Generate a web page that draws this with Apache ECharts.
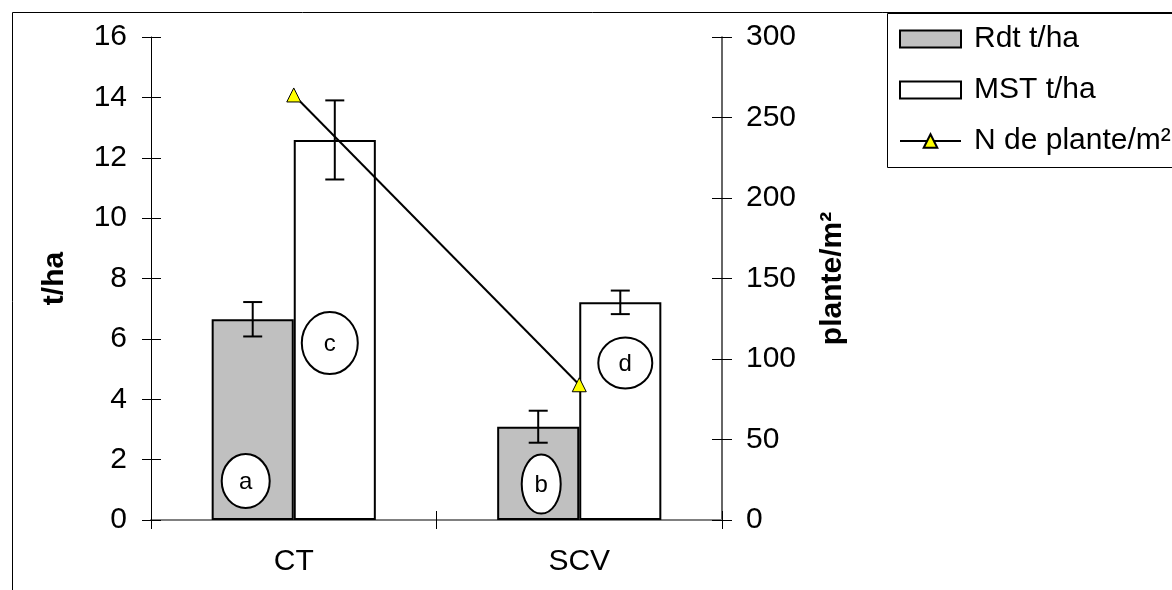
<!DOCTYPE html>
<html><head><meta charset="utf-8">
<script src="https://cdn.jsdelivr.net/npm/echarts@6/dist/echarts.min.js"></script>
<style>html,body{margin:0;padding:0;background:#fff}#c{width:1172px;height:590px}</style>
</head><body><div id="c"></div>
<script>
// ---- data ----
const categories = ['CT', 'SCV'];
const rdtValues = [6.65, 3.09];
const rdtErrors = [0.57, 0.53];
const mstValues = [12.59, 7.21];
const mstErrors = [1.31, 0.39];
const plantValues = [264, 84];
const rdtLetters = ['a', 'b'];
const rdtLetterLevels = [1.29, 1.19];
const mstLetters = ['c', 'd'];
const mstLetterLevels = [5.86, 5.20];
const leftAxisTicks = { min: 0, max: 16, interval: 2 };
const rightAxisTicks = { min: 0, max: 300, interval: 50 };
const seriesNames = ['Rdt t/ha', 'MST t/ha', 'N de plante/m²'];

// ---- styles ----
const FONT = 'Liberation Sans, Arial, sans-serif';
const GAP = 0.425;
const ellipseStyle = {
  a: { rx: 24, ry: 27, dx: -7 },
  b: { rx: 19.5, ry: 29.5, dx: 3 },
  c: { rx: 28, ry: 31, dx: -5 },
  d: { rx: 27, ry: 25.5, dx: 5 }
};

function barCenter(api, cat, idx) {
  const band = api.size([1, 0])[0];
  const bw = band * (1 - GAP) / 2;
  const c = api.coord([cat, 0])[0];
  return c + (idx === 0 ? -bw / 2 : bw / 2);
}

function errorSeries(values, errors, idx) {
  return {
    type: 'custom', name: 'err' + idx, z: 6, silent: true,
    data: values.map((v, i) => [i, v, errors[i]]),
    renderItem(params, api) {
      const cat = api.value(0), v = api.value(1), e = api.value(2);
      const x = barCenter(api, cat, idx);
      const yTop = api.coord([cat, v + e])[1];
      const yBot = api.coord([cat, v - e])[1];
      const s = { stroke: '#000', lineWidth: 2 };
      return { type: 'group', children: [
        { type: 'line', shape: { x1: x, y1: yTop, x2: x, y2: yBot }, style: s },
        { type: 'line', shape: { x1: x - 9.5, y1: yTop, x2: x + 9.5, y2: yTop }, style: s },
        { type: 'line', shape: { x1: x - 9.5, y1: yBot, x2: x + 9.5, y2: yBot }, style: s }
      ]};
    }
  };
}

function letterSeries(letters, levels, idx) {
  return {
    type: 'custom', name: 'letters' + idx, z: 5, silent: true,
    data: levels.map((v, i) => [i, v, letters[i]]),
    renderItem(params, api) {
      const cat = api.value(0), v = api.value(1);
      const letter = letters[params.dataIndex];
      const st = ellipseStyle[letter];
      const x = barCenter(api, cat, idx) + st.dx;
      const y = api.coord([cat, v])[1];
      return { type: 'group', children: [
        { type: 'ellipse', shape: { cx: x, cy: y, rx: st.rx, ry: st.ry },
          style: { fill: '#fff', stroke: '#000', lineWidth: 2 } },
        { type: 'text', style: { x: x, y: y + 1, text: letter, fill: '#000',
          font: '24px ' + FONT, textAlign: 'center', textVerticalAlign: 'middle' } }
      ]};
    }
  };
}

const chart = echarts.init(document.getElementById('c'), null, { renderer: 'canvas' });
const axisText = { fontSize: 30, color: '#000', fontFamily: FONT };

chart.setOption({
  animation: false,
  backgroundColor: '#fff',
  textStyle: { fontFamily: FONT },
  graphic: [
    { type: 'rect', left: 10, top: 10, shape: { width: 1300, height: 700 },
      style: { fill: 'none', stroke: '#000', lineWidth: 1 }, z: 0 },
    { type: 'rect', left: 887, top: 13, shape: { width: 400, height: 154 },
      style: { fill: '#fff', stroke: '#000', lineWidth: 1 }, z: 1 }
  ],
  grid: { left: 151, right: 450, top: 37, bottom: 70, containLabel: false },
  legend: {
    orient: 'vertical', left: 894, top: 19,
    itemWidth: 61, itemHeight: 17, itemGap: 21,
    textStyle: { fontSize: 30, color: '#000', fontFamily: FONT, lineHeight: 30, padding: [0, 0, 0, 8] },
    data: [
      { name: seriesNames[0], icon: 'rect' },
      { name: seriesNames[1], icon: 'rect' },
      { name: seriesNames[2] }
    ],
    z: 10
  },
  xAxis: [
    { type: 'category', data: categories, position: 'bottom',
      axisLine: { show: true, lineStyle: { color: '#000', width: 1 } },
      axisTick: { show: true, length: 9, lineStyle: { color: '#000' } },
      axisLabel: Object.assign({ margin: 27 }, axisText),
      splitLine: { show: false } },
    { type: 'category', data: categories, position: 'bottom', offset: 0,
      axisLine: { show: false },
      axisTick: { show: true, inside: true, length: 9, lineStyle: { color: '#000' } },
      axisLabel: { show: false }, splitLine: { show: false } },
    { type: 'category', data: categories, position: 'top', offset: 0,
      axisLine: { show: true, lineStyle: { color: '#808080', width: 2 } },
      axisTick: { show: false }, axisLabel: { show: false }, splitLine: { show: false } }
  ],
  yAxis: [
    { type: 'value', position: 'left', min: leftAxisTicks.min, max: leftAxisTicks.max, interval: leftAxisTicks.interval,
      axisLine: { show: true, lineStyle: { color: '#000', width: 1 } },
      axisTick: { show: true, length: 9, lineStyle: { color: '#000' } },
      axisLabel: Object.assign({ margin: 24 }, axisText),
      splitLine: { show: false },
      name: 't/ha', nameLocation: 'middle', nameGap: 81, nameRotate: 90,
      nameTextStyle: { fontSize: 30, fontWeight: 'bold', color: '#000', fontFamily: FONT } },
    { type: 'value', position: 'right', min: rightAxisTicks.min, max: rightAxisTicks.max, interval: rightAxisTicks.interval,
      axisLine: { show: true, lineStyle: { color: '#333', width: 1.5 } },
      axisTick: { show: true, length: 10, lineStyle: { color: '#000' } },
      axisLabel: Object.assign({ margin: 24 }, axisText),
      splitLine: { show: false },
      name: 'plante/m²', nameLocation: 'middle', nameGap: 96, nameRotate: 90,
      nameTextStyle: { fontSize: 30, fontWeight: 'bold', color: '#000', fontFamily: FONT } },
    { type: 'value', position: 'left', offset: 0, min: leftAxisTicks.min, max: leftAxisTicks.max, interval: leftAxisTicks.interval,
      axisLine: { show: false }, axisTick: { show: true, inside: true, length: 10, lineStyle: { color: '#000' } },
      axisLabel: { show: false }, splitLine: { show: false } },
    { type: 'value', position: 'right', offset: 0, min: rightAxisTicks.min, max: rightAxisTicks.max, interval: rightAxisTicks.interval,
      axisLine: { show: false }, axisTick: { show: true, inside: true, length: 10, lineStyle: { color: '#000' } },
      axisLabel: { show: false }, splitLine: { show: false } }
  ],
  series: [
    { name: seriesNames[0], type: 'bar', data: rdtValues, barGap: '0%', barCategoryGap: (GAP * 100) + '%',
      itemStyle: { color: '#C0C0C0', borderColor: '#000', borderWidth: 2 }, z: 2 },
    { name: seriesNames[1], type: 'bar', data: mstValues, barGap: '0%', barCategoryGap: (GAP * 100) + '%',
      itemStyle: { color: '#FFFFFF', borderColor: '#000', borderWidth: 2 }, z: 2 },
    { name: seriesNames[2], type: 'line', yAxisIndex: 1, data: plantValues,
      lineStyle: { color: '#000', width: 2 },
      symbol: 'triangle', symbolSize: 14, showSymbol: true,
      itemStyle: { color: '#FFFF00', borderColor: '#000', borderWidth: 1 }, z: 4 },
    errorSeries(rdtValues, rdtErrors, 0),
    errorSeries(mstValues, mstErrors, 1),
    letterSeries(rdtLetters, rdtLetterLevels, 0),
    letterSeries(mstLetters, mstLetterLevels, 1)
  ]
});
</script>
</body></html>
